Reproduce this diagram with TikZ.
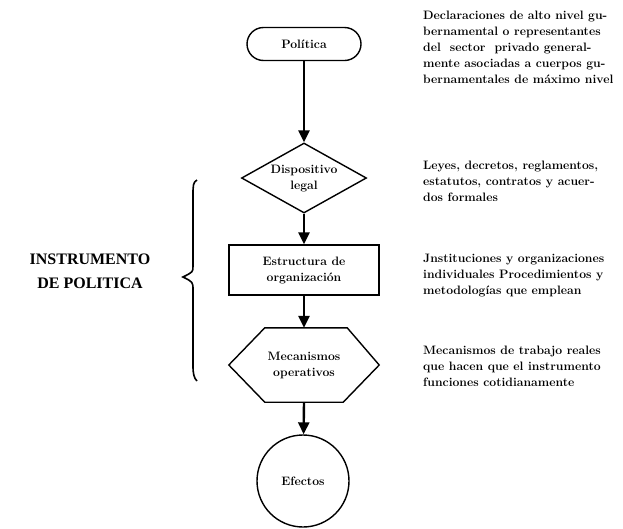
\documentclass[tikz,border=0pt]{standalone}
\usepackage{fontspec}
\newfontfamily\headfont{Liberation Serif}
\usetikzlibrary{arrows.meta,shapes.geometric,calc}
\begin{document}
\begin{tikzpicture}[x=1pt,y=-1pt,
  every node/.style={font=\fontsize{12.2}{16}\selectfont\bfseries, inner sep=0pt},
  shapeline/.style={draw, line width=1.4pt},
  flow/.style={line width=2.4pt, -{Triangle[width=11pt,length=12pt]}},
  desc/.style={anchor=base west, align=left}]
\useasboundingbox (0,0) rectangle (623,528);
% flow shapes
\node[shapeline, rounded corners=16.5pt, minimum width=114pt, minimum height=33pt] (pol) at (304,44) {Política};
\node[shapeline, diamond, aspect=1.79, minimum width=125pt, minimum height=70pt, align=center] (dis) at (304,178) {\raisebox{-5pt}{\begin{tabular}{@{}c@{}}Dispositivo\\legal\end{tabular}}};
\node[shapeline, minimum width=150pt, minimum height=50pt, align=center] (est) at (304,270) {Estructura de\\organización};
\node[minimum width=150pt, minimum height=74pt, align=center] (mec) at (304,365) {Mecanismos\\operativos};
\draw[line width=1.4pt] (mec.west) -- ($(mec.north west)+(36,0)$) -- ($(mec.north east)+(-32,0)$) -- (mec.east) -- ($(mec.south east)+(-36,0)$) -- ($(mec.south west)+(36,0)$) -- cycle;
\node[shapeline, circle, minimum size=92pt] (efe) at (303,481) {Efectos};
% connectors
\draw[flow] (pol) -- (dis);
\draw[flow] (dis) -- (est);
\draw[flow] (est) -- (mec.north);
\draw[flow] (mec.south) -- (efe);
% brace
\draw[line width=1.6pt] (197,180) .. controls (193,182) and (193,186) .. (193,195) -- (193,266) .. controls (193,272) .. (183,277) .. controls (193,282) .. (193,290) -- (193,366) .. controls (193,374) and (194,378) .. (197,381);
\node[font=\headfont\bfseries\fontsize{16}{24}\selectfont, align=center, anchor=base] (head) at (90,288) {INSTRUMENTO\\DE POLITICA};
% descriptions
\node[desc] (d1) at (423,83) {Declaraciones de alto nivel gu-\\bernamental o representantes\\del\hspace{9pt}sector\hspace{9pt}privado general-\\mente asociadas a cuerpos gu-\\bernamentales de máximo nivel};
\node[desc] (d2) at (423,201) {Leyes, decretos, reglamentos,\\estatutos, contratos y acuer-\\dos formales};
\node[desc] (d3) at (423,294) {Jnstituciones y organizaciones\\individuales Procedimientos y\\metodologías que emplean};
\node[desc] (d4) at (423,386) {Mecanismos de trabajo reales\\que hacen que el instrumento\\funciones cotidianamente};
\end{tikzpicture}
\end{document}
